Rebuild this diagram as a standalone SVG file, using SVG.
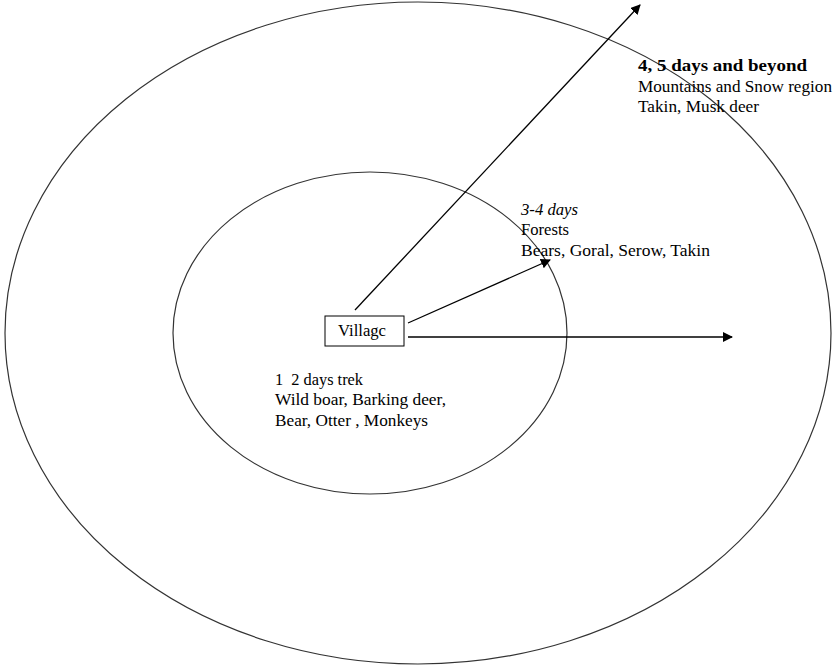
<svg xmlns="http://www.w3.org/2000/svg" width="835" height="667" viewBox="0 0 835 667">
<style>
.ring{fill:none;stroke:#333;stroke-width:1.2}
.ln{fill:none;stroke:#000;stroke-width:1.3}
text{font-family:"Liberation Serif","Times New Roman",serif;fill:#000}
.t{font-size:16px}
.b{font-size:17px}
</style>
<defs>
<marker id="ah" viewBox="0 0 10 10" refX="9" refY="5" markerWidth="10" markerHeight="10" markerUnits="userSpaceOnUse" orient="auto">
<path d="M0,0 L10,5 L0,10 z" fill="#000"/>
</marker>
</defs>
<g id="outer-ring"><ellipse class="ring" cx="418" cy="333" rx="413" ry="331"/></g>
<g id="inner-ring"><ellipse class="ring" cx="370" cy="333" rx="197" ry="161"/></g>
<g id="connectors">
<line class="ln" x1="355" y1="310" x2="640" y2="5" marker-end="url(#ah)"/>
<line class="ln" x1="408" y1="323" x2="550" y2="260" marker-end="url(#ah)"/>
<line class="ln" x1="408" y1="337" x2="732" y2="337" marker-end="url(#ah)"/>
</g>
<g id="village">
<rect x="325" y="316" width="79" height="30" fill="#fff" stroke="#000" stroke-width="1"/>
<text class="t" x="338" y="336" textLength="48" lengthAdjust="spacingAndGlyphs">Villagc</text>
</g>
<g id="label-outer">
<text class="b" x="638" y="71" font-weight="bold" textLength="169" lengthAdjust="spacingAndGlyphs">4, 5 days and beyond</text>
<text class="b" x="638" y="92" textLength="194" lengthAdjust="spacingAndGlyphs">Mountains and Snow region</text>
<text class="b" x="638" y="112" textLength="121" lengthAdjust="spacingAndGlyphs">Takin, Musk deer</text>
</g>
<g id="label-middle">
<text class="t" x="521" y="215" font-style="italic" textLength="57" lengthAdjust="spacingAndGlyphs">3-4 days</text>
<text class="t" x="521" y="235" textLength="48" lengthAdjust="spacingAndGlyphs">Forests</text>
<text class="t" x="521" y="256" textLength="189" lengthAdjust="spacingAndGlyphs">Bears, Goral, Serow, Takin</text>
</g>
<g id="label-inner">
<text class="t" x="275" y="385" textLength="88" lengthAdjust="spacingAndGlyphs" xml:space="preserve">1  2 days trek</text>
<text class="t" x="275" y="405" textLength="171" lengthAdjust="spacingAndGlyphs">Wild boar, Barking deer,</text>
<text class="t" x="275" y="426" textLength="153" lengthAdjust="spacingAndGlyphs">Bear, Otter , Monkeys</text>
</g>
</svg>
